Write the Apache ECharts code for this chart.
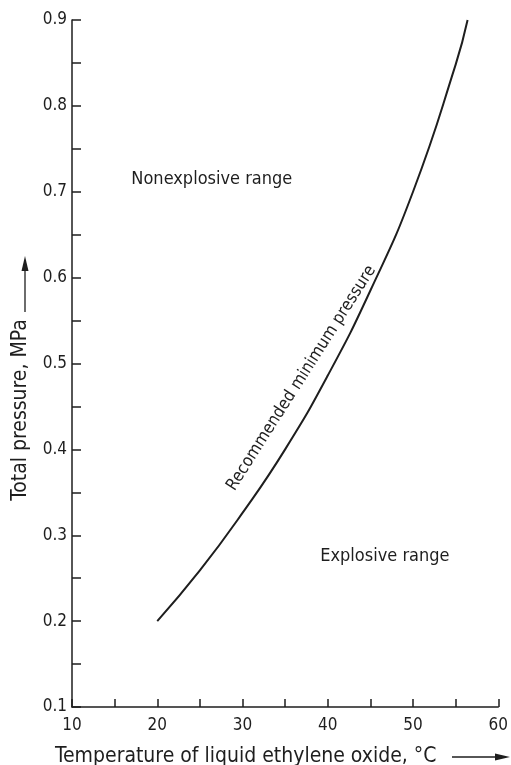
<!DOCTYPE html>
<html>
<head>
<meta charset="utf-8">
<script src="https://cdn.jsdelivr.net/npm/echarts@6/dist/echarts.min.js"></script>
<style>
  html, body { margin: 0; padding: 0; background: #fff; }
  #chart { width: 511px; height: 765px; }
</style>
</head>
<body>
<div id="chart"></div>
<script>
const temperature = [20, 25, 30, 35, 40, 45, 50, 55, 56.4];
const pressure = [0.2, 0.259, 0.326, 0.4, 0.486, 0.585, 0.7, 0.848, 0.9];
const xTicks = [10, 20, 30, 40, 50, 60];
const yTicks = [0.1, 0.2, 0.3, 0.4, 0.5, 0.6, 0.7, 0.8, 0.9];

const font = "'DejaVu Sans Condensed', 'DejaVu Sans', sans-serif";
const ink = "#1e1e1e";

let chart = echarts.init(document.getElementById("chart"));

const option = {
  animation: false,
  grid: { left: 72, right: 10, top: 20, bottom: 58 },
  xAxis: {
    type: "value",
    min: 10,
    max: 60,
    interval: 5,
    axisLine: { lineStyle: { color: ink, width: 1.5 } },
    axisTick: { inside: true, length: 8, lineStyle: { color: ink, width: 1.5 } },
    splitLine: { show: false },
    axisLabel: {
      margin: 10,
      color: ink,
      fontFamily: font,
      fontSize: 17,
      formatter: function (v) {
        return xTicks.indexOf(v) >= 0 ? String(v) : "";
      },
    },
  },
  yAxis: {
    type: "value",
    min: 0.1,
    max: 0.9,
    interval: 0.05,
    axisLine: { show: true, lineStyle: { color: ink, width: 1.5 } },
    axisTick: { show: true, inside: true, length: 9, lineStyle: { color: ink, width: 1.5 } },
    splitLine: { show: false },
    axisLabel: {
      margin: 5,
      color: ink,
      fontFamily: font,
      fontSize: 17,
      formatter: function (v) {
        let r = Math.round(v * 100) / 100;
        return yTicks.indexOf(r) >= 0 ? r.toFixed(1) : "";
      },
    },
  },
  series: [
    {
      type: "line",
      smooth: true,
      symbol: "none",
      data: temperature.map((t, i) => [t, pressure[i]]),
      lineStyle: { color: ink, width: 2 },
    },
  ],
};
chart.setOption(option);

// annotations anchored on data coordinates
const at = (x, y) => chart.convertToPixel({ gridIndex: 0 }, [x, y]);
const nonexp = at(26.4, 0.714);
const exp = at(46.7, 0.275);
const curveLbl = at(36.9, 0.483);

const txt = (pos, text, size, extra) =>
  Object.assign(
    {
      type: "text",
      x: pos[0],
      y: pos[1],
      style: {
        text: text,
        fill: ink,
        font: size + "px " + font,
        textAlign: "center",
        textVerticalAlign: "middle",
      },
    },
    extra || {}
  );

chart.setOption({
  graphic: [
    txt(nonexp, "Nonexplosive range", 18),
    txt(exp, "Explosive range", 18),
    txt(curveLbl, "Recommended minimum pressure", 17, { rotation: (57.5 * Math.PI) / 180 }),
    // x axis title + arrow
    {
      type: "text",
      x: 55,
      y: 757,
      style: {
        text: "Temperature of liquid ethylene oxide, °C",
        fill: ink,
        font: "21px " + font,
        textAlign: "left",
        textVerticalAlign: "middle",
      },
    },
    { type: "line", shape: { x1: 452, y1: 757, x2: 500, y2: 757 }, style: { stroke: ink, lineWidth: 1.3 } },
    { type: "polygon", shape: { points: [[510, 757], [495, 753.5], [495, 760.5]] }, style: { fill: ink } },
    // y axis title + arrow
    txt([21, 410], "Total pressure, MPa", 21, { rotation: Math.PI / 2 }),
    { type: "line", shape: { x1: 25, y1: 312, x2: 25, y2: 266 }, style: { stroke: ink, lineWidth: 1.3 } },
    { type: "polygon", shape: { points: [[25, 256], [21.5, 271], [28.5, 271]] }, style: { fill: ink } },
  ],
});
</script>
</body>
</html>
